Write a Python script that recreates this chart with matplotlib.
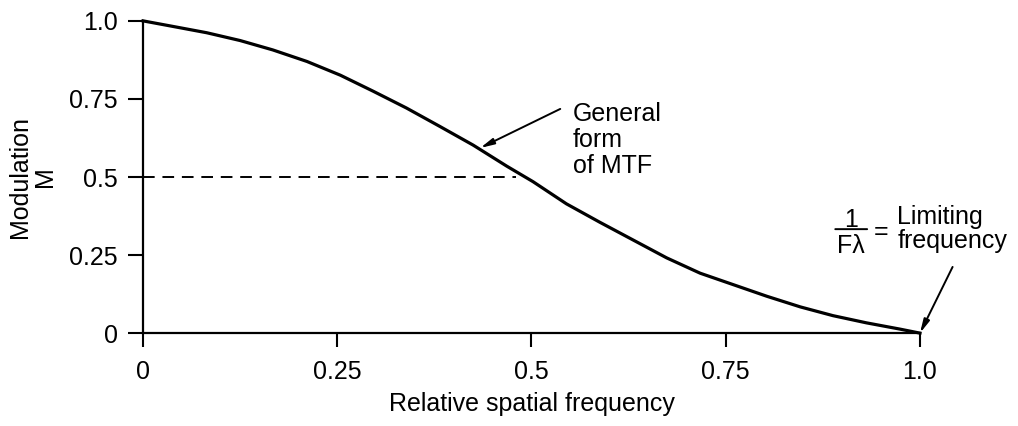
import matplotlib
matplotlib.use('Agg')
from matplotlib import pyplot as plt

# values
freq = [0.0, 0.039, 0.082, 0.125, 0.167, 0.211, 0.254, 0.296, 0.339, 0.382, 0.425,
        0.468, 0.502, 0.545, 0.588, 0.631, 0.674, 0.717, 0.760, 0.803, 0.846,
        0.888, 0.931, 0.974, 1.0]
mtf = [1.0, 0.982, 0.962, 0.937, 0.907, 0.870, 0.826, 0.775, 0.721, 0.662, 0.602,
       0.535, 0.485, 0.414, 0.355, 0.298, 0.241, 0.192, 0.155, 0.118, 0.084,
       0.056, 0.033, 0.013, 0.0]
half_freq = [0.0, 0.48]
half_mod = [0.5, 0.5]
ticks = [0, 0.25, 0.5, 0.75, 1.0]
tick_labels = ['0', '0.25', '0.5', '0.75', '1.0']

plt.rcParams['font.family'] = ['Liberation Sans', 'DejaVu Sans']
fs = 18

fig = plt.figure(figsize=(10.18, 4.26), dpi=100)
ax = fig.add_axes([0.1405, 0.218, 0.7632, 0.733])

ax.plot(freq, mtf, color='black', lw=2.3, solid_joinstyle='round', clip_on=False)
ax.plot(half_freq, half_mod, color='black', lw=1.4, linestyle=(0, (6, 4)))

ax.set_xlim(0, 1)
ax.set_ylim(0, 1)
for side in ['top', 'right']:
    ax.spines[side].set_visible(False)
for side in ['left', 'bottom']:
    ax.spines[side].set_linewidth(1.6)

ax.set_xticks(ticks)
ax.set_xticklabels(tick_labels)
ax.set_yticks(ticks)
ax.set_yticklabels(tick_labels)
ax.tick_params(axis='x', direction='out', length=10, width=1.5, pad=9, labelsize=fs)
ax.tick_params(axis='y', direction='out', length=11, width=1.5, pad=7, labelsize=fs)

ax.set_ylabel('Modulation\nM', fontsize=fs, linespacing=1.05)
ax.yaxis.set_label_coords(-0.111, 0.5)
ax.set_xlabel('Relative spatial frequency', fontsize=fs)
ax.xaxis.set_label_coords(0.5, -0.19)

arrow = dict(arrowstyle='-|>,head_length=0.8,head_width=0.18', color='black', lw=1.4,
             shrinkA=0, shrinkB=0)

# multi-line text: baseline is the last line
ax.text(0.553, 0.513, 'General\nform\nof MTF', fontsize=fs, ha='left', va='baseline',
        linespacing=1.1)
ax.annotate('', xy=(0.434, 0.593), xytext=(0.537, 0.718), arrowprops=arrow)

ax.text(0.911, 0.34, '1', fontsize=fs, ha='center', va='baseline')
ax.text(0.911, 0.256, 'F\u03bb', fontsize=fs, ha='center', va='baseline')
ax.annotate('', xy=(0.891, 0.333), xytext=(0.932, 0.333),
            arrowprops=dict(arrowstyle='-', color='black', lw=1.4, shrinkA=0, shrinkB=0),
            annotation_clip=False)
ax.text(0.950, 0.324, '=', fontsize=fs, ha='center', va='center')
ax.text(0.971, 0.272, 'Limiting\nfrequency', fontsize=fs, ha='left', va='baseline',
        linespacing=1.0)
ax.annotate('', xy=(1.0, 0.0), xytext=(1.042, 0.212), arrowprops=arrow,
            annotation_clip=False)

fig.savefig('out.png', dpi=100)
